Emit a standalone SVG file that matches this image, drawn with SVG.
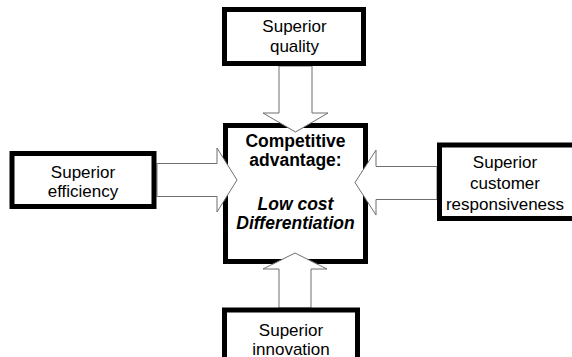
<svg xmlns="http://www.w3.org/2000/svg" width="572" height="357" viewBox="0 0 572 357">
  <style>
    .box { fill: #ffffff; stroke: #000000; stroke-width: 5; }
    .arrow { fill: #ffffff; stroke: #6e6e6e; stroke-width: 1; }
    .label { font-family: "Liberation Sans", Arial, sans-serif; font-size: 17px; fill: #000000; text-anchor: middle; }
    .core { font-weight: bold; font-size: 17.5px; }
    .core-em { font-weight: bold; font-style: italic; font-size: 17.5px; }
  </style>
  <rect width="572" height="357" fill="#ffffff"/>

  <!-- central node -->
  <g id="competitive-advantage">
    <rect class="box" x="225.5" y="125.5" width="140" height="136"/>
  </g>

  <!-- block arrows pointing into the central node -->
  <g id="connectors">
    <polygon class="arrow" points="279,66 312,66 312,113 328,113 295.5,132 263,113 279,113"/>
    <polygon class="arrow" points="157,163.5 217,163.5 217,148 237,180 217,212 217,196.5 157,196.5"/>
    <polygon class="arrow" points="437,166.5 376,166.5 376,150 355,182.5 376,215 376,199.5 437,199.5"/>
    <polygon class="arrow" points="279,308 311,308 311,269 327,269 295,253 263,269 279,269"/>
  </g>

  <g id="competitive-advantage-text">
    <text class="label core" x="295.5" y="147">Competitive</text>
    <text class="label core" x="295.5" y="166">advantage:</text>
    <text class="label core-em" x="295.5" y="210">Low cost</text>
    <text class="label core-em" x="295.5" y="229">Differentiation</text>
  </g>

  <g id="superior-quality">
    <rect class="box" x="224.5" y="9.5" width="139" height="54"/>
    <text class="label" x="294.5" y="32">Superior</text>
    <text class="label" x="294.5" y="52">quality</text>
  </g>

  <g id="superior-efficiency">
    <rect class="box" x="12" y="153.5" width="142" height="53"/>
    <text class="label" x="83" y="178">Superior</text>
    <text class="label" x="83" y="197">efficiency</text>
  </g>

  <g id="superior-customer-responsiveness">
    <rect class="box" x="439.5" y="145" width="140" height="73.5"/>
    <text class="label" x="505" y="168">Superior</text>
    <text class="label" x="505" y="189">customer</text>
    <text class="label" x="505" y="210">responsiveness</text>
  </g>

  <g id="superior-innovation">
    <rect class="box" x="224.5" y="310" width="133" height="60"/>
    <text class="label" x="291" y="336">Superior</text>
    <text class="label" x="291" y="355">innovation</text>
  </g>
</svg>
